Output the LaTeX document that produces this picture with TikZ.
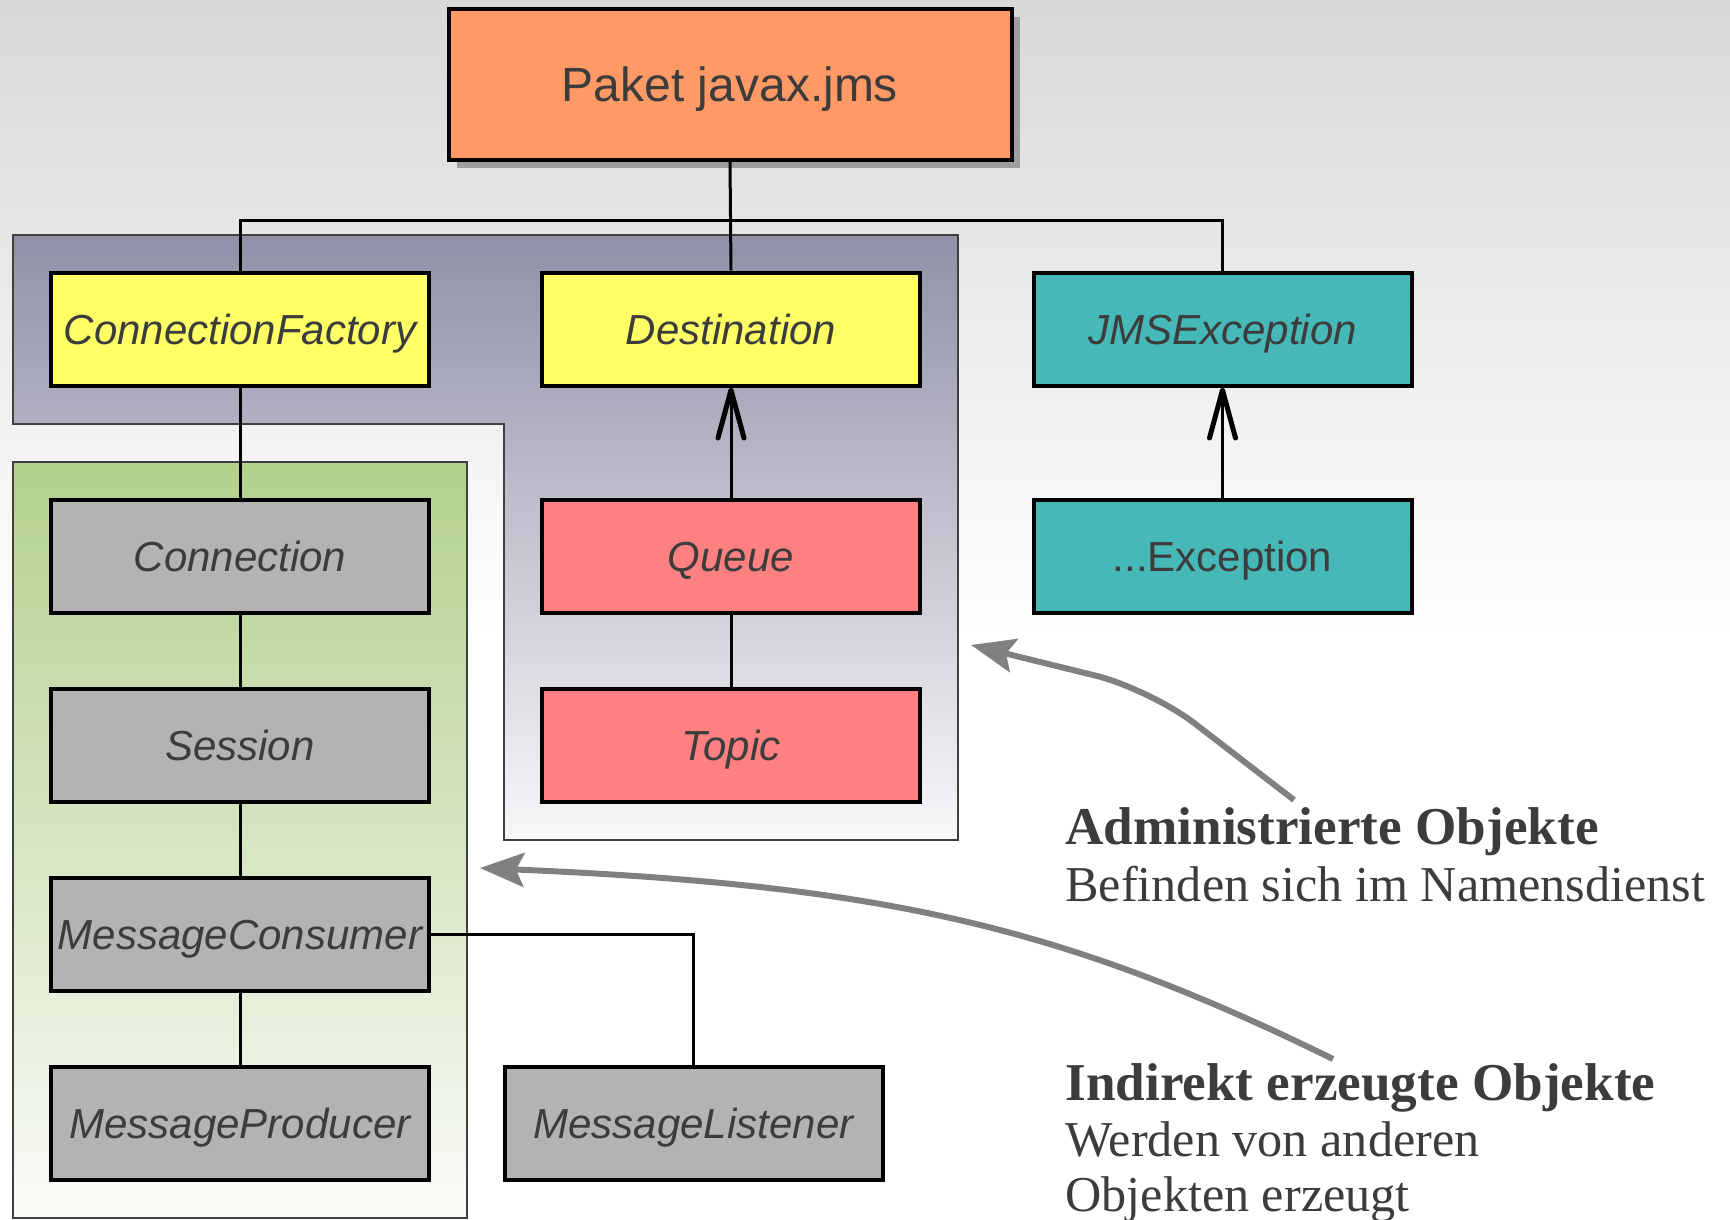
\documentclass[tikz,border=0pt]{standalone}
\usepackage{fontspec}
\setmainfont{Liberation Sans}
\newfontfamily\notefont{Liberation Serif}
\usetikzlibrary{arrows.meta,shadows}

\definecolor{pkgfill}{HTML}{FF9966}
\definecolor{ifacefill}{HTML}{FFFF66}
\definecolor{excfill}{HTML}{47B8B8}
\definecolor{destfill}{HTML}{FF8080}
\definecolor{objfill}{HTML}{B3B3B3}
\definecolor{labelgray}{HTML}{3C3C3C}
\definecolor{shadowgray}{HTML}{9E9E9E}
\definecolor{regionline}{HTML}{404040}
\definecolor{admtop}{HTML}{9090A8}
\definecolor{admbottom}{HTML}{F8F8FA}
\definecolor{indtop}{HTML}{B2D08C}
\definecolor{indbottom}{HTML}{FAFBF8}
\definecolor{bgtop}{HTML}{D8D8D8}
\definecolor{hintgray}{HTML}{808080}

\begin{document}
\begin{tikzpicture}[x=0.5pt,y=-0.5pt,
  cls/.style={rectangle, draw=black, line width=2pt, minimum width=189pt,
    minimum height=56.5pt, inner sep=0pt, text=labelgray,
    text height=15pt, text depth=0pt,
    font=\fontsize{21}{25}\selectfont\itshape},
  pkgbox/.style={rectangle, draw=black, line width=2pt, fill=pkgfill,
    minimum width=281.5pt, minimum height=75.5pt, inner sep=0pt, text=labelgray,
    text height=17.2pt, text depth=0pt,
    font=\fontsize{24}{28}\selectfont,
    drop shadow={shadow xshift=4pt, shadow yshift=-4pt, fill=shadowgray, opacity=1}},
  link/.style={draw=black, line width=1.5pt},
  inherit/.style={link, -{Straight Barb[length=24pt, width=13pt, line width=2.5pt, round]}},
  hint/.style={draw=hintgray, line width=3pt,
    -{Stealth[length=22pt, width=17pt, inset=4pt]}},
  regionedge/.style={draw=regionline, line width=0.8pt},
  notehead/.style={anchor=base west, inner sep=0pt, text=labelgray,
    font=\notefont\bfseries\fontsize{26.6}{30}\selectfont},
  notebody/.style={anchor=base west, inner sep=0pt, text=labelgray,
    font=\notefont\fontsize{25.1}{30}\selectfont}]

\useasboundingbox (0,0) rectangle (1730,1220);

% page background: light gray fading to white
\fill[white] (0,0) rectangle (1730,1220);
\shade[top color=bgtop, bottom color=white] (0,0) rectangle (1730,640);

% group of administered objects
\shade[top color=admtop, bottom color=admbottom, regionedge]
  (13,235) -- (958,235) -- (958,840) -- (504,840) -- (504,424) -- (13,424) -- cycle;

% group of indirectly created objects
\shade[top color=indtop, bottom color=indbottom, regionedge]
  (13,462) rectangle (467,1218);

% package box
\node[pkgbox] (pkg) at (730,84.5) {Paket javax.jms};

% interfaces and classes
\node[cls, fill=ifacefill] (cf)   at (240,329)    {ConnectionFactory};
\node[cls, fill=ifacefill] (dest) at (731,329)    {Destination};
\node[cls, fill=excfill]   (jms)  at (1222.5,329) {JMSException};

\node[cls, fill=objfill]   (conn) at (240,556.5)  {Connection};
\node[cls, fill=destfill]  (queue) at (731,556.5) {Queue};
\node[cls, fill=excfill, font=\fontsize{21}{25}\selectfont] (exc) at (1222.5,556.5) {...Exception};

\node[cls, fill=objfill]   (sess) at (240,745)    {Session};
\node[cls, fill=destfill]  (topic) at (731,745)   {Topic};

\node[cls, fill=objfill]   (mc)   at (240,934.5)  {MessageConsumer};
\node[cls, fill=objfill]   (mp)   at (240,1123.5) {MessageProducer};
\node[cls, fill=objfill]   (ml)   at (693.5,1123.5) {MessageListener};

% package tree
\coordinate (busL) at (240,220);
\coordinate (busR) at (1222.5,220);
\draw[link] (cf.north) -- (busL) -- (busR) -- (jms.north);
\draw[link] (pkg.south) -- (dest.north);

% object chain
\draw[link] (cf.south) -- (conn.north);
\draw[link] (conn.south) -- (sess.north);
\draw[link] (sess.south) -- (mc.north);
\draw[link] (mc.south) -- (mp.north);
\draw[link] (mc.east) -| (ml.north);
\draw[link] (queue.south) -- (topic.north);

% inheritance
\draw[inherit] (queue.north) -- (dest.south);
\draw[inherit] (exc.north) -- (jms.south);

% annotations
\node[notehead] (admhead) at (1065,844) {Administrierte Objekte};
\node[notebody] (admtext) at (1065,901) {Befinden sich im Namensdienst};
\node[notehead] (indhead) at (1065,1100) {Indirekt erzeugte Objekte};
\node[notebody] (indtext) at (1065,1156) {Werden von anderen};
\node[notebody] (indtext2) at (1065,1211) {Objekten erzeugt};

\coordinate (admtip) at (971,645);
\coordinate (indtip) at (480,868);
\draw[hint, rounded corners=28pt] (1294,800) -- (1150,689) -- (admtip);
\draw[hint] (1333,1059) .. controls (1060,925) and (880,885) .. (indtip);

\end{tikzpicture}
\end{document}
